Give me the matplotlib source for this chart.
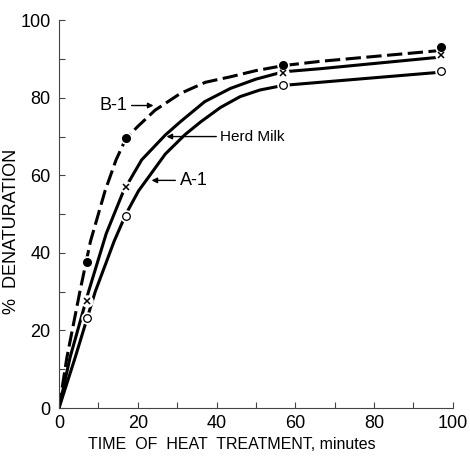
import matplotlib.pyplot as plt

plt.rcParams['font.family'] = ['Liberation Sans', 'DejaVu Sans']

# measured points
t_points = [7, 17, 57, 97]
b1_points = [37.7, 69.5, 88.4, 93.0]
herd_points = [27.7, 57.0, 86.5, 91.0]
a1_points = [23.2, 49.5, 83.4, 87.0]

# fitted curves
b1_t = [0, 2, 5.3, 8, 11.7, 14.5, 17, 20, 24.4, 30.8, 37.2, 43.5, 50, 57, 66.4, 97]
b1_y = [0, 13, 30, 43, 56, 64, 69.5, 72.6, 76.8, 81.1, 84.0, 85.4, 87.0, 88.3, 89.4, 92.2]

herd_t = [0, 2.8, 7.5, 12, 16.4, 21, 27, 30.8, 37, 43.5, 50, 57, 66.4, 97]
herd_y = [0, 13, 30, 45, 56, 64, 70.4, 73.8, 79.0, 82.4, 84.8, 86.7, 87.5, 90.5]

a1_t = [0, 4.1, 9.2, 14, 17, 20.2, 22, 27, 32, 36, 41, 46, 51, 57, 97]
a1_y = [0, 13, 30, 43, 50, 56, 58.5, 65.5, 70.5, 73.8, 77.5, 80.3, 82.0, 83.2, 86.6]

fig = plt.figure(figsize=(4.7, 4.59), dpi=100)
ax = fig.add_axes([0.1255, 0.111, 0.838, 0.845])

lw = 2.2
ax.plot(b1_t, b1_y, color='black', lw=lw, dashes=(5, 1.8), zorder=2)
ax.plot(herd_t, herd_y, color='black', lw=lw, zorder=2)
ax.plot(a1_t, a1_y, color='black', lw=lw, zorder=2)

# white halo so the curves break around the markers
for ys in (b1_points, herd_points, a1_points):
    ax.plot(t_points, ys, ls='none', marker='o', ms=8, mfc='white', mec='white', zorder=3, clip_on=False)

ax.plot(t_points, b1_points, ls='none', marker='o', ms=5.5, mfc='black', mec='black', zorder=4, clip_on=False)
ax.plot(t_points, herd_points, ls='none', marker='x', ms=4, mew=1.1, color='black', zorder=4, clip_on=False)
ax.plot(t_points, a1_points, ls='none', marker='o', ms=5.5, mfc='white', mec='black', mew=0.9, zorder=4, clip_on=False)

# curve labels
arrow = dict(arrowstyle='-|>', color='black', lw=1.0, mutation_scale=8, shrinkA=1, shrinkB=0)
ax.annotate('B-1', xy=(24, 78), xytext=(10.3, 78), fontsize=13, va='center', ha='left', arrowprops=arrow)
ax.annotate('Herd Milk', xy=(27.3, 70), xytext=(41, 70), fontsize=11, va='center', ha='left', arrowprops=arrow)
ax.annotate('A-1', xy=(23.5, 58.7), xytext=(30.6, 58.7), fontsize=13, va='center', ha='left', arrowprops=arrow)

ax.set_xlim(0, 100)
ax.set_ylim(0, 100)
ax.spines['top'].set_visible(False)
ax.spines['right'].set_visible(False)
for s in ('left', 'bottom'):
    ax.spines[s].set_linewidth(0.8)
    ax.spines[s].set_color('#444444')

ax.set_xticks([0, 20, 40, 60, 80, 100])
ax.set_yticks([0, 20, 40, 60, 80, 100])
ax.set_xticks(range(10, 100, 20), minor=True)
ax.set_yticks(range(10, 100, 20), minor=True)
ax.tick_params(which='both', direction='in', length=4, width=0.8, color='#444444', labelsize=13)
ax.tick_params(axis='y', pad=6)
ax.tick_params(axis='x', pad=5)

ax.set_xlabel('TIME  OF  HEAT  TREATMENT, minutes', fontsize=11.5)
ax.xaxis.set_label_coords(0.44, -0.075)
ax.set_ylabel('%  DENATURATION', fontsize=13)
ax.yaxis.set_label_coords(-0.1, 0.455)

fig.savefig('out.png', dpi=100)
